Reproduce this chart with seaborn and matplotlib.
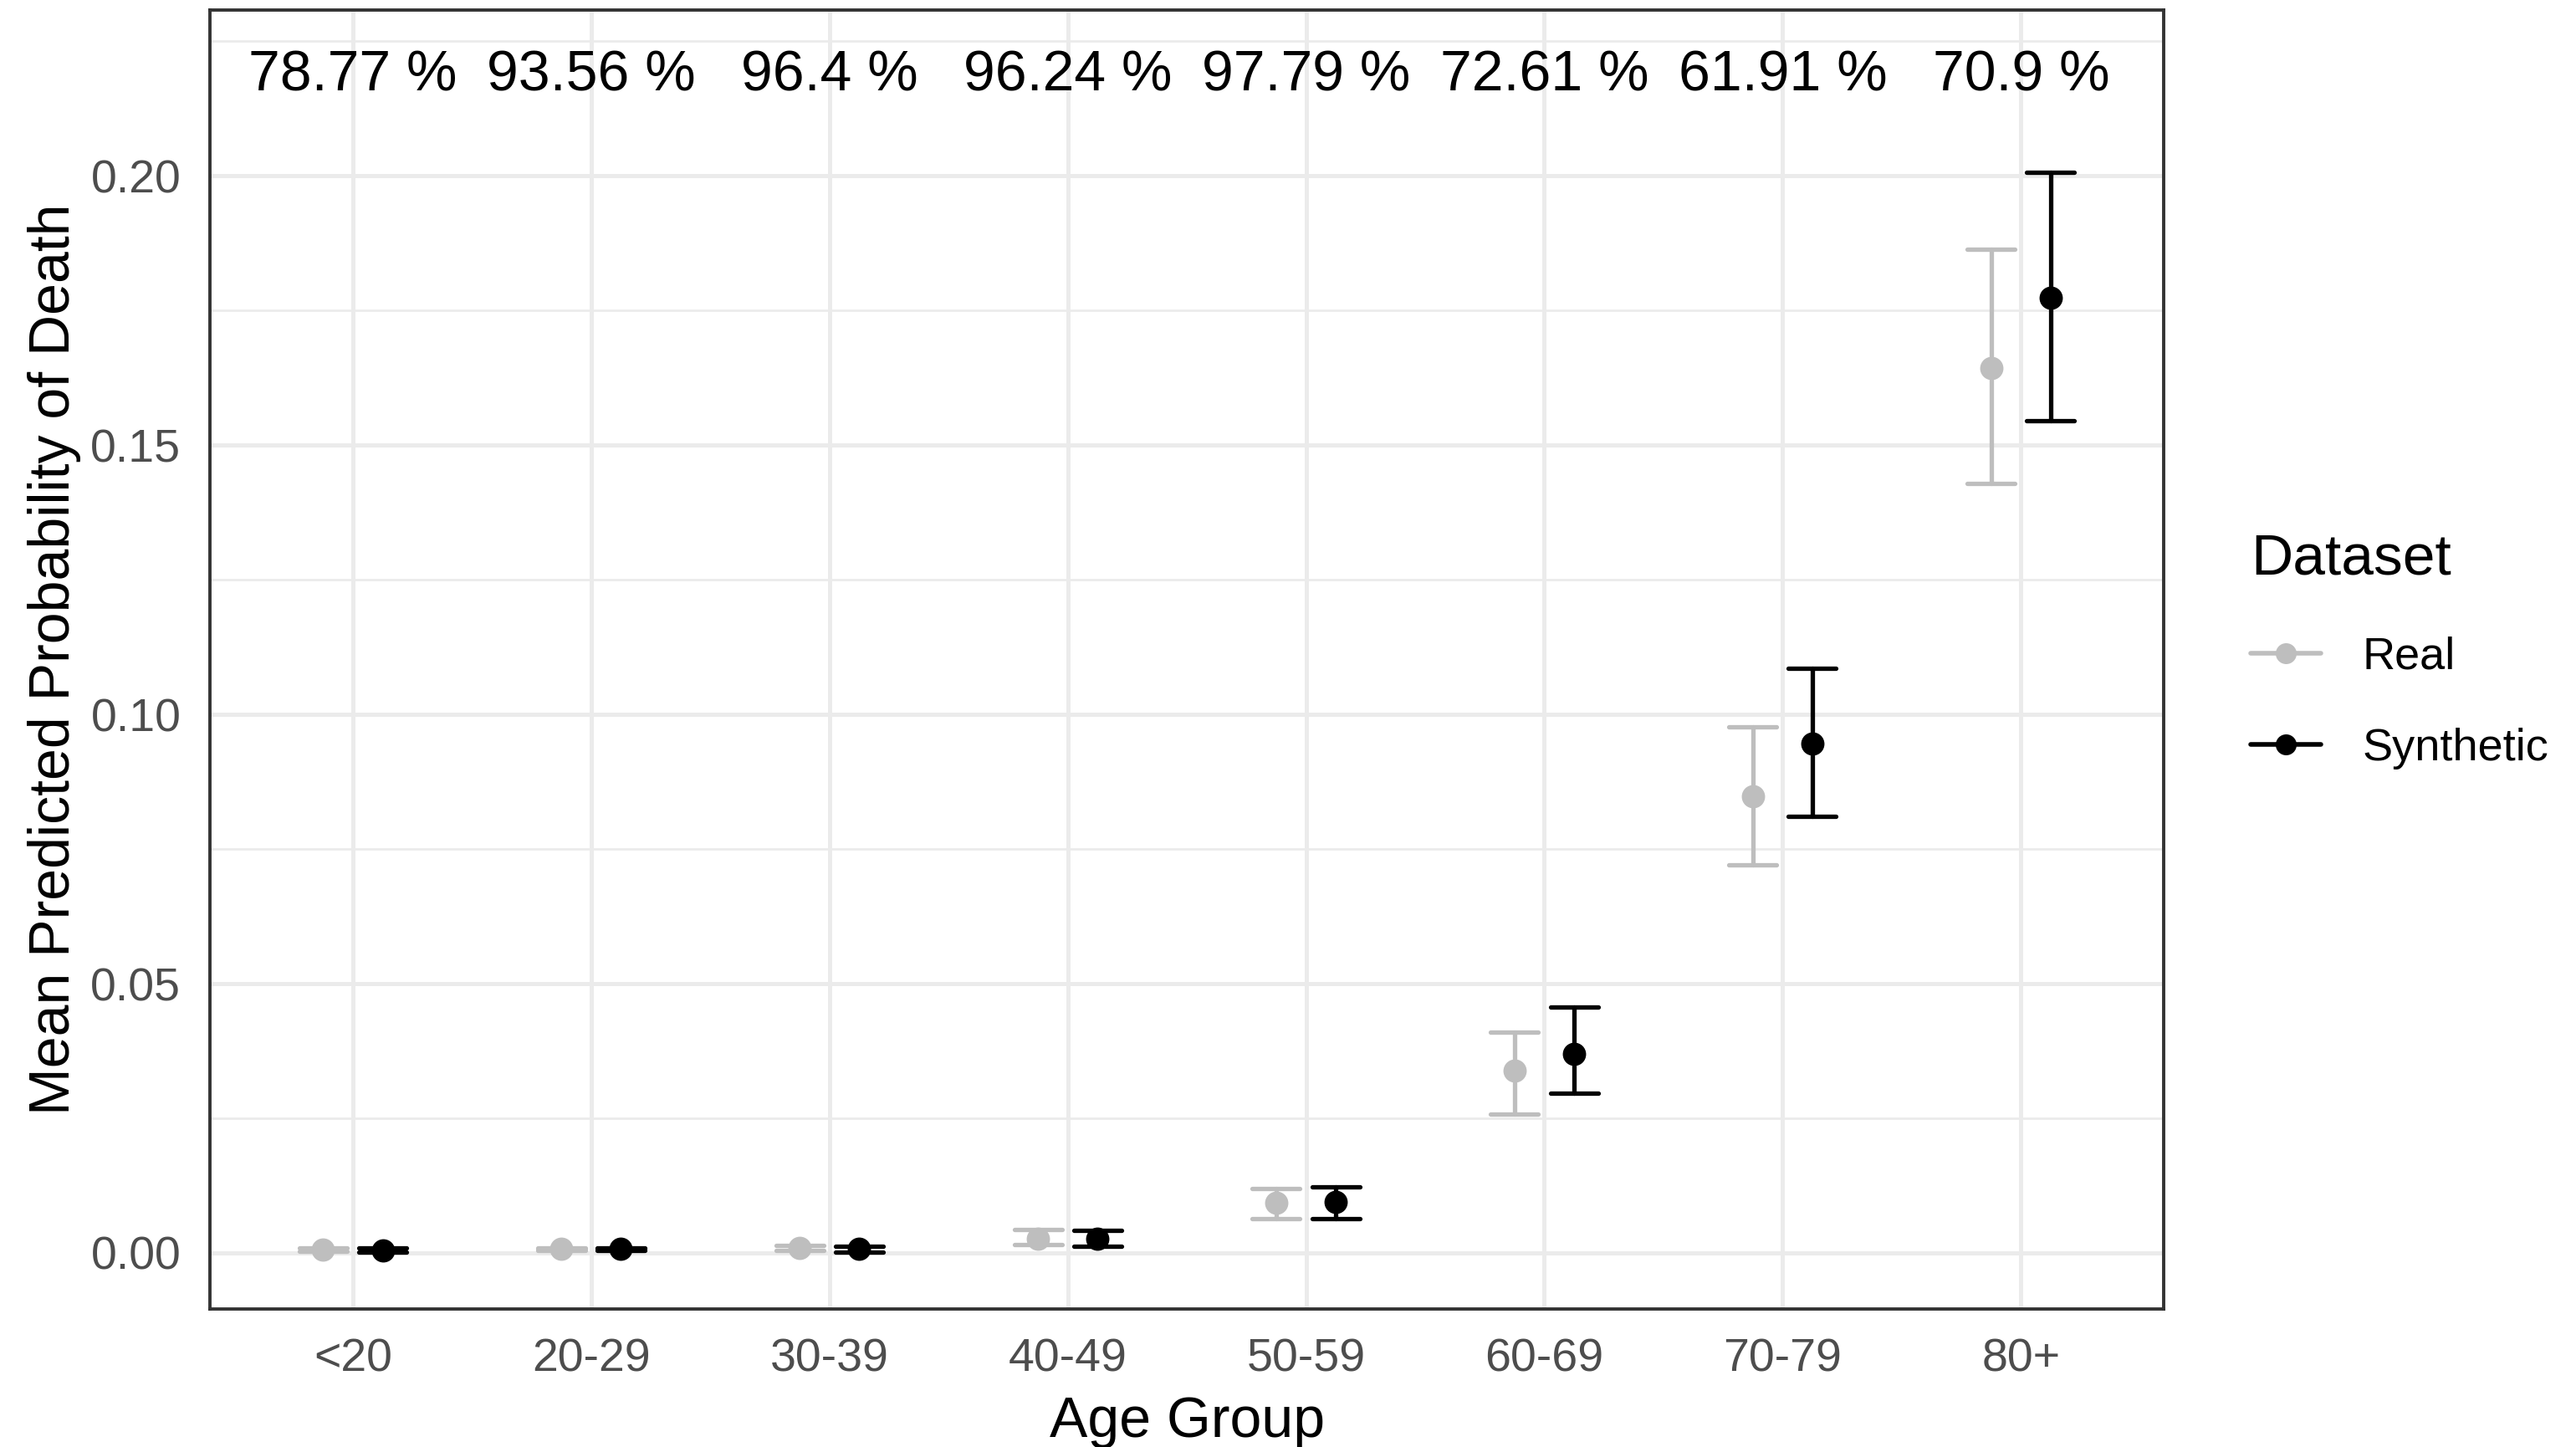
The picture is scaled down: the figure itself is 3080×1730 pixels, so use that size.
import numpy as np
import pandas as pd
import matplotlib
matplotlib.use("Agg")
import matplotlib.pyplot as plt
from matplotlib.lines import Line2D
from matplotlib.ticker import MultipleLocator, FormatStrFormatter
import seaborn as sns

# Age groups and per-group predicted probability of death (mean with interval)
age_groups = ["<20", "20-29", "30-39", "40-49", "50-59", "60-69", "70-79", "80+"]

real_mean = [0.0006, 0.0007, 0.0009, 0.0027, 0.0093, 0.0338, 0.0848, 0.1643]
real_lo = [0.0003, 0.0004, 0.0004, 0.0016, 0.0063, 0.0258, 0.0721, 0.1429]
real_hi = [0.0010, 0.0010, 0.0014, 0.0043, 0.0120, 0.0410, 0.0977, 0.1863]

syn_mean = [0.0005, 0.0007, 0.0007, 0.0027, 0.0094, 0.0370, 0.0946, 0.1774]
syn_lo = [0.0002, 0.0004, 0.0002, 0.0013, 0.0063, 0.0297, 0.0811, 0.1546]
syn_hi = [0.0009, 0.0010, 0.0013, 0.0042, 0.0123, 0.0456, 0.1085, 0.2007]

overlap_labels = ["78.77 %", "93.56 %", "96.4 %", "96.24 %",
                  "97.79 %", "72.61 %", "61.91 %", "70.9 %"]

datasets = ["Real", "Synthetic"]
colors = {"Real": "#BEBEBE", "Synthetic": "#000000"}

# Long table: lower bound, mean and upper bound per group; the median gives
# the mean and the full percentile interval gives the bounds.
rows = []
for name, lo, mid, hi in [("Real", real_lo, real_mean, real_hi),
                          ("Synthetic", syn_lo, syn_mean, syn_hi)]:
    for g, a, m, b in zip(age_groups, lo, mid, hi):
        for v in (a, m, b):
            rows.append({"Age Group": g, "prob": v, "Dataset": name})
df = pd.DataFrame(rows)

sns.set_theme(style="white")
plt.rcParams["font.family"] = ["Liberation Sans", "DejaVu Sans"]
plt.rcParams["text.color"] = "black"

fig = plt.figure(figsize=(15.4, 8.65), dpi=200)
ax = fig.add_axes([0.0815, 0.0954, 0.7585, 0.8977])

sns.pointplot(
    data=df, x="Age Group", y="prob", hue="Dataset",
    order=age_groups, hue_order=datasets, palette=colors,
    estimator="median", errorbar=("pi", 100),
    dodge=0.25, linestyle="none", capsize=0.2,
    markers="o", markersize=8.0,
    err_kws={"linewidth": 1.9},
    legend=False, ax=ax, zorder=3,
)

# Overlap percentages above each group
for i, lab in enumerate(overlap_labels):
    ax.text(i, 0.2186, lab, ha="center", va="center", fontsize=24.5, color="black")

ax.set_xlim(-0.6, len(age_groups) - 1 + 0.6)
ax.set_ylim(-0.0104, 0.2308)
ax.yaxis.set_major_locator(MultipleLocator(0.05))
ax.yaxis.set_minor_locator(MultipleLocator(0.025))
ax.yaxis.set_major_formatter(FormatStrFormatter("%.2f"))

# Grid and frame
ax.set_axisbelow(True)
ax.grid(which="major", color="#EBEBEB", linewidth=1.8)
ax.grid(which="minor", axis="y", color="#EBEBEB", linewidth=1.0)
for s in ax.spines.values():
    s.set_color("#333333")
    s.set_linewidth(1.4)

ax.tick_params(axis="both", which="major", length=6.5, width=1.4,
               color="#333333", labelsize=20, labelcolor="#4D4D4D", pad=6)
ax.tick_params(axis="y", which="minor", length=0)

ax.set_xlabel("Age Group", fontsize=24.5, color="black", labelpad=6)
ax.set_ylabel("Mean Predicted Probability of Death", fontsize=24.5,
              color="black", labelpad=4)

# Legend with line + dot keys
handles = [Line2D([0], [0], color=colors[d], marker="o", markersize=8.0,
                  linewidth=2.0) for d in datasets]
leg = fig.legend(handles, datasets, title="Dataset", loc="upper left",
                 bbox_to_anchor=(0.858, 0.66), frameon=False,
                 fontsize=19.5, title_fontsize=25, handlelength=1.55,
                 handletextpad=0.9, labelspacing=1.1,
                 labelcolor="black")
leg.get_title().set_color("black")
leg._legend_box.align = "left"

fig.savefig("out.png", dpi=200)
